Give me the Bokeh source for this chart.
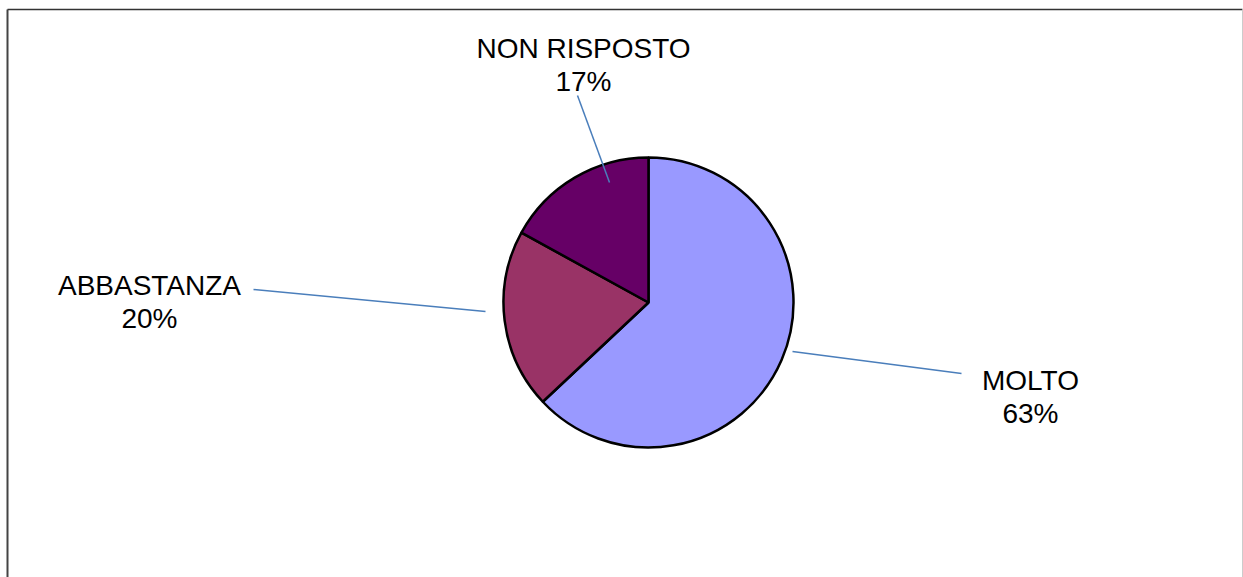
import math
from bokeh.plotting import figure
from bokeh.models import Range1d, ColumnDataSource
from bokeh.core.properties import value
from bokeh.embed import file_html
from bokeh.resources import INLINE

# ---- data ----
categories = ["MOLTO", "ABBASTANZA", "NON RISPOSTO"]
percentages = [63, 20, 17]
colors = ["#9999FF", "#993366", "#660066"]

# ---- layout (pixel coordinates, y measured from top) ----
W, H = 1243, 577
CX, CY, R = 648, 302, 145
label_x = [1030, 149, 583]
name_baseline = [380, 285, 48]
pct_baseline = [413, 318, 81]
leader_inner = [(792, 351), (485, 311), (609, 182)]
leader_outer = [(961, 373), (253, 289), (577, 95)]

def fy(y):
    return H - y

p = figure(width=W, height=H, output_backend="svg", toolbar_location=None,
           x_range=Range1d(0, W), y_range=Range1d(0, H), min_border=0,
           background_fill_color="white", border_fill_color="white")
p.axis.visible = False
p.grid.visible = False
p.outline_line_color = None

# chart border (cut at bottom)
p.segment(x0=[7], y0=[fy(9)], x1=[7], y1=[fy(H + 5)], line_color="#444444", line_width=2)
p.segment(x0=[7], y0=[fy(9)], x1=[1242], y1=[fy(9)], line_color="#333333", line_width=1.5)
p.segment(x0=[1242], y0=[fy(9)], x1=[1242], y1=[fy(H + 5)], line_color="#cccccc", line_width=1)

# pie
total = sum(percentages)
starts, ends = [], []
cum = 0
for v in percentages:
    starts.append(math.pi / 2 - cum / total * 2 * math.pi)
    cum += v
    ends.append(math.pi / 2 - cum / total * 2 * math.pi)

src = ColumnDataSource(dict(x=[CX] * 3, y=[fy(CY)] * 3, start=starts, end=ends,
                            color=colors, cat=categories))
p.wedge(x="x", y="y", radius=R, radius_units="screen", start_angle="start",
        end_angle="end", direction="clock", fill_color="color",
        line_color="black", line_width=2.5, source=src)

# leader lines
p.segment(x0=[a[0] for a in leader_inner], y0=[fy(a[1]) for a in leader_inner],
          x1=[b[0] for b in leader_outer], y1=[fy(b[1]) for b in leader_outer],
          line_color="#4A7EBB", line_width=1.5)

# labels
p.text(x=label_x, y=[fy(v) for v in name_baseline], text=categories,
       text_align="center", text_baseline="alphabetic",
       text_font=value("Liberation Sans"), text_font_size="28px", text_color="black")
p.text(x=label_x, y=[fy(v) for v in pct_baseline], text=[f"{v}%" for v in percentages],
       text_align="center", text_baseline="alphabetic",
       text_font=value("Liberation Sans"), text_font_size="28px", text_color="black")

open("out.html", "w").write(file_html(p, INLINE))
